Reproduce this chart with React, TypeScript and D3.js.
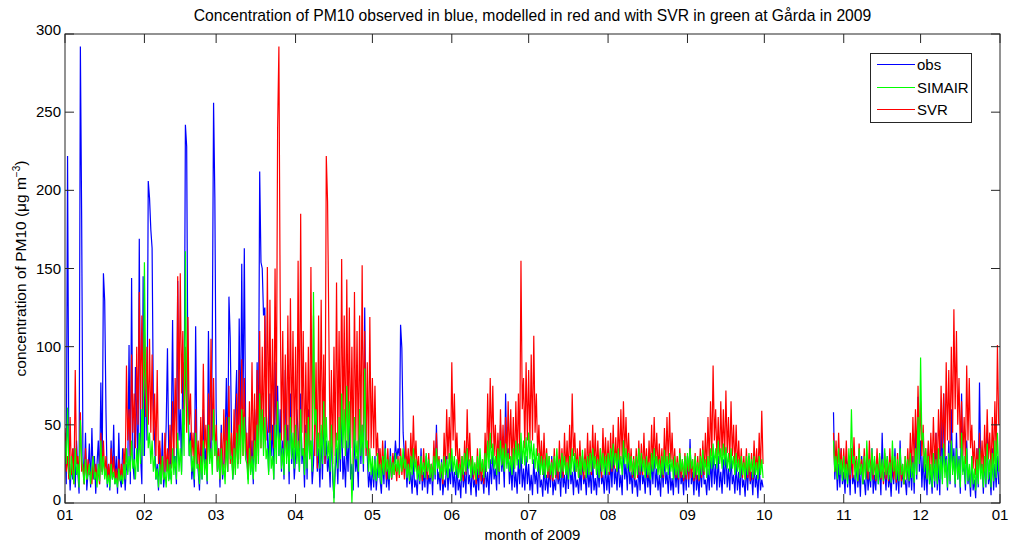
import React from "react";
import * as d3 from "d3";

// Segment start dates (values are 12-hourly from each start). October data resumes on the 28th.
const SEGMENT_STARTS: [number, number, number][] = [
  [2009, 0, 1], [2009, 1, 1], [2009, 2, 1], [2009, 3, 1], [2009, 4, 1], [2009, 5, 1],
  [2009, 6, 1], [2009, 7, 1], [2009, 8, 1], [2009, 9, 28], [2009, 10, 1], [2009, 11, 1],
];

const Y_TICKS = [0, 50, 100, 150, 200, 250, 300];

const OBS: number[][] = [
  [45,12,222,30,8,25,15,35,10,40,20,6,292,182,30,12,45,8,20,38,10,48,15,30,6,25,40,12,77,20,147,129,58,10,25,8,40,15,50,12,30,6,45,15,10,35,25,8,25,20,101,12,144,25,15,87,55,20,169,30,12,145],
  [30,90,40,206,195,175,163,60,40,15,25,8,35,12,45,10,20,50,99,30,15,45,117,25,30,12,142,40,60,20,90,50,242,228,70,30,45,15,25,10,113,30,20,8,40,15,60,25,35,12,110,40,30,105,256,195],
  [60,20,35,10,50,15,25,40,80,20,132,105,45,15,30,60,85,25,118,40,153,60,163,50,30,15,55,20,40,12,60,25,90,35,212,154,150,120,125,60,45,20,70,30,50,15,90,40,75,30,60,20,40,15,85,30,50,12,70,25,40,15],
  [30,60,45,20,70,25,35,10,50,15,60,30,40,12,25,50,55,20,35,10,45,15,60,25,40,20,30,10,50,15,3,20,35,12,45,20,60,15,30,10,40,20,55,15,25,8,45,20,30,10,60,25,50,20,125,40,30,10,20,8],
  [25,10,30,8,20,35,15,6,28,12,40,10,22,8,35,15,30,25,40,28,35,30,114,99,45,30,25,10,30,12,20,6,28,10,15,5,25,12,35,8,20,10,30,6,18,12,25,5,35,15,50,12,20,8,28,5,15,10,30,8,22,12],
  [30,10,20,5,25,8,15,3,28,10,20,6,35,12,18,5,25,10,15,4,22,8,30,12,18,6,25,10,20,5,28,12,35,15,22,8,40,12,50,20,30,10,70,25,35,12,25,8,30,10,20,6,28,12,35,10,22,8,30,12],
  [25,8,18,5,28,12,20,6,30,10,15,4,25,8,18,6,22,10,30,5,15,8,25,12,20,4,28,10,18,6,24,9,30,12,20,5,26,10,15,6,22,8,30,12,18,5,25,10,20,6,28,8,16,5,24,10,30,12,18,6,25,8],
  [20,6,28,10,35,12,22,8,30,10,18,5,40,15,25,8,30,12,20,6,26,10,15,4,24,8,30,12,18,6,25,10,20,5,28,12,35,10,22,8,18,4,26,10,30,12,20,6,25,8,16,5,28,10,22,6,30,12,18,5,25,8],
  [30,10,41,12,20,5,28,8,18,4,24,10,30,12,15,5,22,8,28,10,35,12,25,8,30,10,20,6,28,12,35,10,22,8,30,12,18,6,25,8,20,5,28,10,15,4,24,8,30,12,20,5,26,10,18,3,25,8,15,10],
  [58,15,30,8,25,10,35,12],
  [20,6,30,10,25,5,35,12,18,6,28,10,22,4,30,12,15,5,26,8,20,10,35,6,18,8,28,12,24,5,45,15,20,8,30,10,18,4,25,12,35,8,22,6,40,10,20,12,15,5,28,10,24,8,30,6,45,15,68,20],
  [40,10,30,8,25,5,35,12,20,6,30,10,45,8,25,5,55,15,70,20,30,8,40,12,60,20,35,10,45,15,30,6,70,20,25,8,40,12,20,4,30,8,15,3,35,10,77,20,25,6,30,10,45,12,20,5,35,8,25,10,30,12],
];

const SIMAIR: number[][] = [
  [40,25,61,20,15,30,20,12,35,18,25,10,53,30,20,12,28,15,18,25,12,22,30,15,20,10,25,14,40,18,30,15,22,12,18,10,25,15,20,12,16,10,22,14,18,12,25,15,35,18,30,20,40,22,28,15,35,20,45,25,60,30],
  [154,80,60,35,45,25,40,20,30,15,22,10,25,12,30,15,20,10,28,14,25,12,35,18,30,15,45,20,35,18,60,30,161,70,55,30,40,20,30,15,45,22,25,12,30,15,40,18,28,14,50,25,35,18,60,30],
  [40,20,30,15,35,18,25,12,40,20,55,28,30,15,35,18,45,22,50,25,60,30,55,28,25,12,35,18,30,15,40,20,50,25,70,35,60,30,55,28,35,18,45,22,30,15,50,25,65,30,45,22,35,18,50,25,40,20,55,28,45,22],
  [50,25,40,20,60,30,35,18,45,22,55,28,40,20,135,50,60,30,45,22,50,25,65,30,55,28,40,20,50,25,0,30,45,22,55,28,70,35,60,30,75,35,65,30,0,25,55,28,40,20,60,30,50,25,86,35,40,20,35,18],
  [30,15,28,14,32,16,25,12,30,18,35,20,28,15,30,16,26,18,32,20,28,18,30,20,35,22,28,16,25,14,30,18,35,20,28,15,24,14,30,18,26,16,32,20,28,16,25,14,30,18,35,22,28,16,26,15,30,18,28,16,32,20],
  [35,20,30,18,28,16,25,14,30,18,32,20,35,22,28,16,30,18,26,15,30,18,35,20,28,16,32,20,40,22,45,25,38,22,30,18,35,20,40,24,35,20,38,22,32,20,30,18,35,22,40,24,38,22,45,25,40,24,42,26],
  [45,28,40,25,38,22,35,20,32,18,30,18,28,16,32,20,30,18,26,16,30,18,35,20,28,16,32,20,30,18,26,15,30,18,35,20,32,20,28,16,30,18,34,20,28,16,30,18,32,20,35,22,30,18,28,16,35,20,32,18,30,18],
  [32,20,35,22,38,24,32,20,35,22,30,18,40,25,35,22,32,20,30,18,28,16,30,18,35,20,32,20,28,16,30,18,26,15,32,20,35,22,30,18,28,16,30,18,34,20,30,18,32,20,28,15,30,18,26,16,32,20,28,16,30,18],
  [32,20,35,22,28,16,30,18,26,15,30,18,34,20,28,16,30,18,35,22,38,24,35,22,40,25,35,22,38,24,36,22,32,20,35,22,30,18,32,20,28,16,30,18,26,15,30,18,32,20,28,16,30,18,26,15,30,18,28,16],
  [40,20,30,15,35,18,28,14],
  [30,15,25,12,35,18,60,25,30,15,28,14,35,18,25,12,30,15,40,20,28,14,35,18,30,15,25,12,32,16,28,14,35,18,30,15,26,13,40,20,30,15,28,14,35,18,25,12,30,15,28,14,32,16,26,13,35,18,55,25],
  [93,40,45,20,35,15,30,12,25,10,32,14,28,12,35,15,30,12,38,16,28,10,32,14,40,18,30,12,35,15,28,10,45,18,30,12,35,14,25,10,30,12,22,8,28,12,35,15,25,10,30,12,38,15,28,10,32,14,40,16,45,20],
];

const SVR: number[][] = [
  [48,20,30,15,55,18,35,12,85,25,30,15,58,20,25,12,35,15,28,18,20,12,30,15,25,14,22,12,45,20,40,18,30,15,25,14,35,16,30,15,22,12,28,15,25,14,35,18,88,40,60,30,95,45,70,35,100,50,135,60,120,60],
  [110,55,100,50,105,45,95,40,70,30,85,25,40,18,30,15,45,20,35,18,50,22,65,30,80,35,145,60,147,70,110,50,100,45,119,50,70,30,45,20,60,25,40,18,55,22,89,35,50,20,70,30,105,40,80,30],
  [50,20,35,15,45,18,60,22,55,20,75,25,45,18,60,22,70,25,85,28,92,30,80,28,45,18,65,22,90,28,70,25,85,30,110,35,100,35,120,40,151,45,130,40,105,35,150,50,240,292,130,40,110,35,95,30,120,40,131,45,110,35],
  [100,30,155,35,185,45,110,25,90,30,100,28,151,40,120,30,90,22,120,35,130,40,95,25,222,193,110,30,85,25,100,30,141,40,110,28,156,45,120,30,143,40,125,35,100,25,135,40,110,30,120,35,152,45,110,30,90,25,119,35],
  [80,35,75,30,45,20,35,18,40,20,30,15,35,18,28,15,32,18,25,14,30,16,35,18,28,15,40,20,35,18,45,22,56,25,40,20,30,16,25,14,35,18,28,15,32,16,25,14,40,20,45,22,30,16,25,12,45,20,60,28,55,25],
  [90,40,70,30,45,20,35,16,30,14,40,18,60,25,45,20,30,15,25,12,35,16,30,14,28,12,45,20,70,30,80,35,75,30,50,22,45,20,60,25,50,22,55,25,65,28,60,25,55,22,65,28,70,30,155,60,80,35,90,40],
  [85,38,95,40,107,45,70,30,50,22,40,18,45,20,35,16,30,15,28,14,35,16,30,15,40,18,35,16,45,20,40,18,50,22,70,30,45,20,35,16,40,18,30,15,35,16,45,20,40,18,50,22,45,20,40,18,35,16,48,22,42,20],
  [40,18,45,20,50,22,42,20,55,25,60,28,65,30,55,25,45,20,35,16,30,15,35,16,40,18,38,18,45,20,35,16,40,18,50,22,55,25,45,20,38,18,35,16,48,22,55,25,58,26,45,20,35,16,30,15,35,16,28,14,32,15],
  [30,15,35,16,28,14,32,15,30,14,35,16,40,18,45,20,55,25,65,30,88,40,60,28,55,25,65,30,60,28,72,32,55,25,65,30,50,22,50,22,40,18,35,16,30,15,35,16,28,14,32,15,40,18,35,16,45,20,59,25],
  [45,20,40,18,45,22,35,16],
  [35,16,40,18,30,15,35,16,42,20,30,14,38,18,28,14,35,16,30,15,40,18,32,15,28,14,35,16,30,15,25,12,32,15,28,14,35,16,30,15,26,13,32,15,28,14,25,12,30,15,35,16,45,20,55,25,60,28,75,35],
  [65,30,50,22,35,16,40,18,45,20,55,25,45,20,60,28,75,35,70,30,90,40,85,38,100,45,124,60,110,50,80,35,65,30,55,25,88,40,80,35,50,22,40,18,35,16,45,20,40,18,50,22,60,28,45,20,55,25,65,30,101,50],
];

const HALF_DAY = 12 * 3600 * 1000;

type Pt = { t: Date; v: number } | null;

function toPoints(segments: number[][]): Pt[] {
  const out: Pt[] = [];
  let lastT = -Infinity;
  segments.forEach((seg, si) => {
    const [yy, mm, dd] = SEGMENT_STARTS[si];
    const start = new Date(yy, mm, dd).getTime();
    if (start - lastT > 2 * 24 * 3600 * 1000 && out.length) out.push(null);
    seg.forEach((v, i) => {
      const t = start + i * HALF_DAY;
      out.push({ t: new Date(t), v });
      lastT = t;
    });
  });
  return out;
}

const L = 65, R = 1000, T = 34, B = 503;
const FONT = "'Liberation Sans', Arial, Helvetica, sans-serif";

export default function App() {
  const x = d3.scaleTime().domain([new Date(2009, 0, 1), new Date(2010, 0, 1)]).range([L, R]);
  const y = d3.scaleLinear().domain([0, 300]).range([B, T]);
  const line = d3
    .line<Pt>()
    .defined((d) => d !== null)
    .x((d) => x((d as any).t))
    .y((d) => y((d as any).v));

  const series = [
    { name: "obs", data: OBS, color: "#0000ff" },
    { name: "SIMAIR", data: SIMAIR, color: "#00ff00" },
    { name: "SVR", data: SVR, color: "#ff0000" },
  ];
  const drawOrder = [series[0], series[2], series[1]];
  const xTicks = x.ticks(d3.timeMonth.every(1) as any);
  const fmt = d3.timeFormat("%m");
  const tickLen = 9;
  const axisColor = "#262626";
  const yLabelBaseline = (v: number) => (v === 0 ? y(v) + 2 : v === 300 ? y(v) + 1 : y(v) + 5);

  return (
    <svg width={1009} height={548} style={{ display: "block", background: "#fff" }} fontFamily={FONT}>
      <style>{`body{margin:0}`}</style>
      <defs>
        <clipPath id="plot">
          <rect x={L} y={T} width={R - L} height={B - T} />
        </clipPath>
      </defs>
      <rect x={0} y={0} width={1009} height={548} fill="#fff" />
      <g clipPath="url(#plot)">
        {drawOrder.map((s) => (
          <path key={s.name} d={line(toPoints(s.data)) || ""} fill="none" stroke={s.color} strokeWidth={1.2} />
        ))}
      </g>
      <rect x={L} y={T} width={R - L} height={B - T} fill="none" stroke={axisColor} strokeWidth={1} />
      {xTicks.map((t, i) => (
        <g key={"xt" + i}>
          <line x1={x(t)} x2={x(t)} y1={B} y2={B - tickLen} stroke={axisColor} />
          <line x1={x(t)} x2={x(t)} y1={T} y2={T + tickLen} stroke={axisColor} />
          <text x={x(t)} y={520} textAnchor="middle" fontSize={15} fill="#000">
            {fmt(t)}
          </text>
        </g>
      ))}
      {Y_TICKS.map((v) => (
        <g key={"yt" + v}>
          <line x1={L} x2={L + tickLen} y1={y(v)} y2={y(v)} stroke={axisColor} />
          <line x1={R} x2={R - tickLen} y1={y(v)} y2={y(v)} stroke={axisColor} />
          <text x={61} y={yLabelBaseline(v)} textAnchor="end" fontSize={15} fill="#000">
            {v}
          </text>
        </g>
      ))}
      <text x={(L + R) / 2} y={21} textAnchor="middle" fontSize={15.7} fill="#000">
        Concentration of PM10 observed in blue, modelled in red and with SVR in green at Gårda in 2009
      </text>
      <text x={(L + R) / 2} y={540} textAnchor="middle" fontSize={15} fill="#000">
        month of 2009
      </text>
      <text transform={`translate(26, ${(T + B) / 2}) rotate(-90)`} textAnchor="middle" fontSize={15.5} fill="#000">
        concentration of PM10 (μg m<tspan dy={-6} fontSize={10}>−3</tspan>
        <tspan dy={6}>)</tspan>
      </text>
      <g>
        <rect x={870.5} y={53.5} width={101} height={69} fill="#fff" stroke={axisColor} />
        {series.map((s, i) => {
          const ly = [64.5, 87.5, 109.5][i];
          return (
            <g key={"lg" + s.name}>
              <line x1={877} x2={915} y1={ly} y2={ly} stroke={s.color} strokeWidth={1.2} />
              <text x={917} y={ly + 5.5} fontSize={15} fill="#000">
                {s.name}
              </text>
            </g>
          );
        })}
      </g>
    </svg>
  );
}
